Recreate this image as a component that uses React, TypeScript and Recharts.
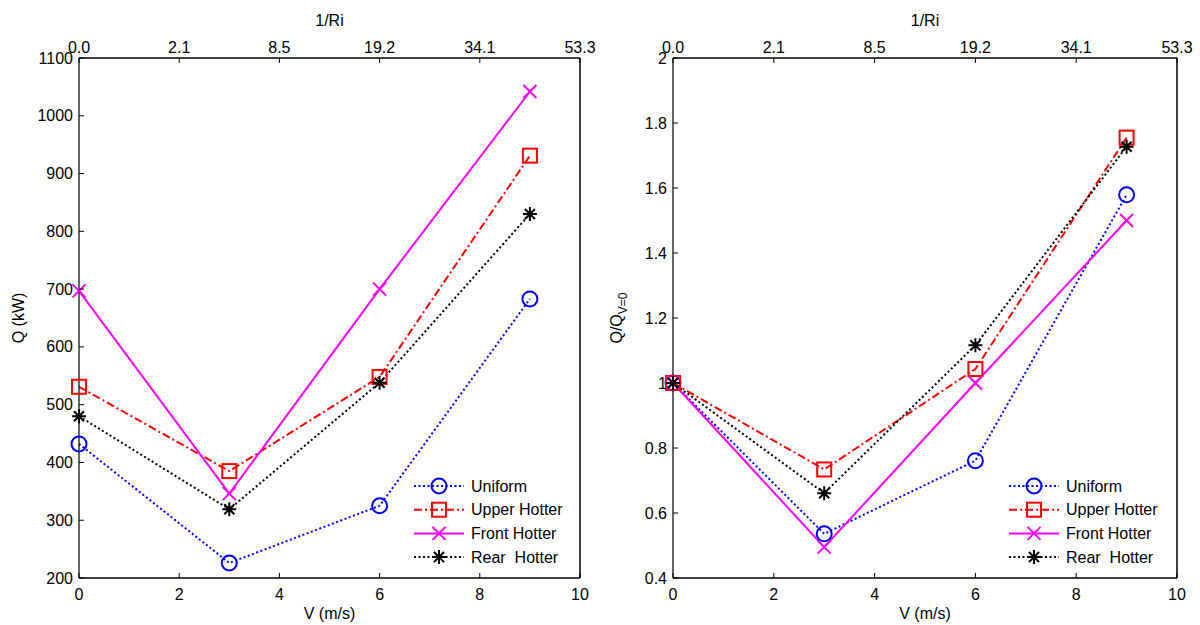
import { LineChart, Line, XAxis, YAxis, Legend } from "recharts";

// wind speed (m/s) at each test point
const speeds = [0, 3, 6, 9];
const speedTicks = [0, 2, 4, 6, 8, 10];
// 1/Ri shown on the top axis at the same positions as speedTicks
const riLabels = ["0.0", "2.1", "8.5", "19.2", "34.1", "53.3"];

// heat rejection Q (kW)
const qUniform = [432, 226, 325, 683];
const qUpper = [531, 385, 548, 931];
const qFront = [697, 346, 700, 1042];
const qRear = [480, 319, 538, 830];
const qTicks = [200, 300, 400, 500, 600, 700, 800, 900, 1000, 1100];
const qTickLabels = ["200", "300", "400", "500", "600", "700", "800", "900", "1000", "1100"];

// normalised Q / Q(V=0)
const ratioUniform = [1, 0.536, 0.761, 1.579];
const ratioUpper = [1, 0.734, 1.043, 1.755];
const ratioFront = [1, 0.495, 1.0, 1.5];
const ratioRear = [1, 0.661, 1.116, 1.727];
const ratioTicks = [0.4, 0.6, 0.8, 1, 1.2, 1.4, 1.6, 1.8, 2];
const ratioTickLabels = ["0.4", "0.6", "0.8", "1", "1.2", "1.4", "1.6", "1.8", "2"];

const FONT = '"Liberation Sans", Arial, Helvetica, sans-serif';
const TICK = 5;
const AXIS = { stroke: "#000", strokeWidth: 1.5 };

const SERIES = [
  { key: "uniform", name: "Uniform", color: "#0000ff", dash: "2 2.5", marker: "circle" },
  { key: "upper", name: "Upper Hotter", color: "#ff0000", dash: "8 3 2 3", marker: "square" },
  { key: "front", name: "Front Hotter", color: "#ff00ff", dash: undefined, marker: "cross" },
  { key: "rear", name: "Rear  Hotter", color: "#000000", dash: "2 2.5", marker: "star" },
];

const buildRows = (u: number[], up: number[], f: number[], r: number[]) =>
  speeds.map((v, i) => ({ v, uniform: u[i], upper: up[i], front: f[i], rear: r[i] }));

const qRows = buildRows(qUniform, qUpper, qFront, qRear);
const ratioRows = buildRows(ratioUniform, ratioUpper, ratioFront, ratioRear);

const Marker = ({ type, cx, cy, color }: { type: string; cx: number; cy: number; color: string }) => {
  if (cx == null || cy == null) return null;
  const common = { fill: "none", stroke: color, strokeWidth: 2 };
  if (type === "circle") return <circle cx={cx} cy={cy} r={7.5} {...common} />;
  if (type === "square") return <rect x={cx - 7} y={cy - 7} width={14} height={14} {...common} />;
  if (type === "cross") {
    const s = 6.5;
    return <path d={`M${cx - s},${cy - s}L${cx + s},${cy + s}M${cx - s},${cy + s}L${cx + s},${cy - s}`} {...common} />;
  }
  const s = 7;
  const d = s * 0.72;
  return (
    <path
      d={`M${cx - s},${cy}L${cx + s},${cy}M${cx},${cy - s}L${cx},${cy + s}M${cx - d},${cy - d}L${cx + d},${cy + d}M${cx - d},${cy + d}L${cx + d},${cy - d}`}
      {...common}
    />
  );
};

const textProps = { fontSize: 16, fontFamily: FONT, fill: "#000" };

// MATLAB-style ticks: all point into the plot box
const bottomTick = (p: any) => (
  <g>
    <line x1={p.x} x2={p.x} y1={p.y} y2={p.y - TICK} stroke="#000" />
    <text x={p.x} y={p.y + 22} textAnchor="middle" {...textProps}>
      {p.payload.value}
    </text>
  </g>
);

const topTick = (p: any) => (
  <g>
    <line x1={p.x} x2={p.x} y1={p.y} y2={p.y + TICK} stroke="#000" />
    <text x={p.x} y={p.y - 5} textAnchor="middle" {...textProps}>
      {riLabels[p.index]}
    </text>
  </g>
);

const makeLeftTick = (labels: string[]) => (p: any) => (
  <g>
    <line x1={p.x} x2={p.x + TICK} y1={p.y} y2={p.y} stroke="#000" />
    <text x={p.x - 6} y={p.y + 5.5} textAnchor="end" {...textProps}>
      {labels[p.index]}
    </text>
  </g>
);

const rightTick = (p: any) => <line x1={p.x} x2={p.x - TICK} y1={p.y} y2={p.y} stroke="#000" />;

// legend keeps the plotting order of the series, not the sorted payload order
const legendContent = (props: any) => {
  const payload: any[] = props.payload || [];
  return (
    <svg width={170} height={100}>
      {SERIES.map((s, i) => {
        const entry = payload.find((e) => e.dataKey === s.key);
        const cy = 12 + i * 23.7;
        return (
          <g key={s.key}>
            <line x1={2} x2={52} y1={cy} y2={cy} stroke={s.color} strokeWidth={2} strokeDasharray={s.dash} />
            <Marker type={s.marker} cx={27} cy={cy} color={s.color} />
            <text x={59} y={cy + 5.5} {...textProps} style={{ whiteSpace: "pre" }}>
              {entry ? entry.value : s.name}
            </text>
          </g>
        );
      })}
    </svg>
  );
};

interface PanelProps {
  left: number;
  rows: any[];
  yDomain: [number, number];
  yTicks: number[];
  yLabels: string[];
  margin: { top: number; right: number; bottom: number; left: number };
  legendLeft: number;
  yTitle: React.ReactNode;
  yTitleX: number;
}

const Panel = ({ left, rows, yDomain, yTicks, yLabels, margin, legendLeft, yTitle, yTitleX }: PanelProps) => {
  const plotCenter = (margin.left + 30 + 600 - margin.right - 1) / 2;
  return (
    <div style={{ position: "absolute", left, top: 0, width: 600, height: 625 }}>
      <LineChart width={600} height={625} data={rows} margin={margin}>
        <XAxis
          xAxisId="bottom"
          dataKey="v"
          type="number"
          domain={[0, 10]}
          ticks={speedTicks}
          interval={0}
          height={30}
          tickSize={0}
          tickMargin={0}
          tickLine={false}
          axisLine={AXIS}
          tick={bottomTick}
        />
        <XAxis
          xAxisId="top"
          orientation="top"
          dataKey="v"
          type="number"
          domain={[0, 10]}
          ticks={speedTicks}
          interval={0}
          height={30}
          tickSize={0}
          tickMargin={0}
          tickLine={false}
          axisLine={AXIS}
          tick={topTick}
        />
        <YAxis
          yAxisId="left"
          type="number"
          domain={yDomain}
          ticks={yTicks}
          interval={0}
          width={30}
          tickSize={0}
          tickMargin={0}
          tickLine={false}
          axisLine={{ stroke: "#000", strokeWidth: 1.2 }}
          tick={makeLeftTick(yLabels)}
        />
        <YAxis
          yAxisId="right"
          orientation="right"
          type="number"
          domain={yDomain}
          ticks={yTicks}
          interval={0}
          width={1}
          tickSize={0}
          tickMargin={0}
          tickLine={false}
          axisLine={AXIS}
          tick={rightTick}
        />
        {SERIES.map((s) => (
          <Line
            key={s.key}
            xAxisId="bottom"
            yAxisId="left"
            type="linear"
            dataKey={s.key}
            name={s.name}
            stroke={s.color}
            strokeWidth={2}
            strokeDasharray={s.dash}
            dot={(p: any) => <Marker key={`${s.key}-${p.index}`} type={s.marker} cx={p.cx} cy={p.cy} color={s.color} />}
            activeDot={false}
            isAnimationActive={false}
          />
        ))}
        <Legend
          layout="vertical"
          align="center"
          verticalAlign="middle"
          wrapperStyle={{ left: legendLeft, top: 474, width: 170, height: 100 }}
          content={legendContent}
        />
      </LineChart>
      <svg width={600} height={625} style={{ position: "absolute", left: 0, top: 0, pointerEvents: "none" }}>
        <text x={plotCenter} y={26} textAnchor="middle" {...textProps}>
          1/Ri
        </text>
        <text x={plotCenter} y={619} textAnchor="middle" {...textProps}>
          V (m/s)
        </text>
        <text transform={`translate(${yTitleX}, 318) rotate(-90)`} textAnchor="middle" {...textProps}>
          {yTitle}
        </text>
      </svg>
    </div>
  );
};

export default function App() {
  return (
    <div style={{ position: "absolute", left: 0, top: 0, width: 1200, height: 625, background: "#fff", fontFamily: FONT }}>
      <Panel
        left={0}
        rows={qRows}
        yDomain={[200, 1100]}
        yTicks={qTicks}
        yLabels={qTickLabels}
        margin={{ top: 28, right: 19, bottom: 17, left: 49 }}
        legendLeft={412}
        yTitle="Q (kW)"
        yTitleX={24}
      />
      <Panel
        left={600}
        rows={ratioRows}
        yDomain={[0.4, 2]}
        yTicks={ratioTicks}
        yLabels={ratioTickLabels}
        margin={{ top: 28, right: 22, bottom: 17, left: 43 }}
        legendLeft={407}
        yTitle={
          <>
            Q/Q
            <tspan fontSize={12} dy={5}>
              V=0
            </tspan>
          </>
        }
        yTitleX={22}
      />
    </div>
  );
}
